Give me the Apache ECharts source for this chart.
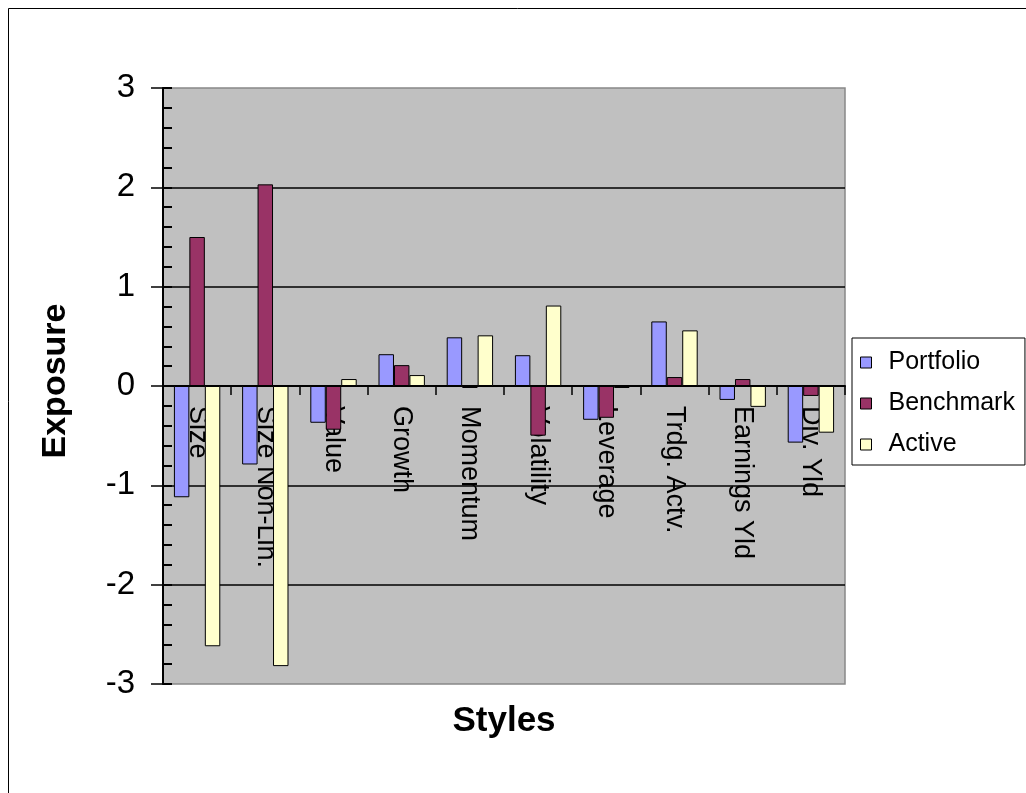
<!DOCTYPE html>
<html>
<head>
<meta charset="utf-8">
<script src="https://cdn.jsdelivr.net/npm/echarts@6/dist/echarts.min.js"></script>
<style>
html,body{margin:0;padding:0;background:#fff;}
#chart{width:1026px;height:793px;}
</style>
</head>
<body>
<div id="chart"></div>
<script>
var categories = ['Size', 'Size Non-Lin.', 'Value', 'Growth', 'Momentum', 'Volatility', 'Leverage', 'Trdg. Actv.', 'Earnings Yld', 'Div. Yld'];
var portfolio = [-1.12, -0.79, -0.37, 0.32, 0.49, 0.31, -0.34, 0.65, -0.14, -0.57];
var benchmark = [1.50, 2.03, -0.44, 0.21, -0.02, -0.50, -0.32, 0.09, 0.07, -0.10];
var active = [-2.62, -2.82, 0.07, 0.11, 0.51, 0.81, -0.02, 0.56, -0.21, -0.47];
var seriesNames = ['Portfolio', 'Benchmark', 'Active'];
var yTicks = {min: -3, max: 3, interval: 1};

var FONT = 'Arial, "Liberation Sans", sans-serif';
var colors = ['#9999ff', '#993366', '#ffffcc'];

// layout of the plot box (pixels)
var GRID = {left: 163, right: 181, top: 88, bottom: 109};
var plotH = 793 - GRID.top - GRID.bottom;
// move the category axis from the bottom edge up to the value 0
var zeroOffset = -plotH * (0 - yTicks.min) / (yTicks.max - yTicks.min);

function barSeries(name, data, color) {
  return {
    name: name,
    type: 'bar',
    data: data,
    xAxisIndex: 0,
    yAxisIndex: 0,
    barGap: '0%',
    barCategoryGap: '32%',
    itemStyle: {color: color, borderColor: '#000', borderWidth: 1}
  };
}

var chart = echarts.init(document.getElementById('chart'), null, {renderer: 'canvas'});
chart.setOption({
  backgroundColor: '#ffffff',
  animation: false,
  graphic: [{
    type: 'rect',
    silent: true,
    shape: {x: 8.5, y: 8.5, width: 1200, height: 1000},
    style: {fill: 'none', stroke: '#000', lineWidth: 1}
  }],
  grid: {
    left: GRID.left, right: GRID.right, top: GRID.top, bottom: GRID.bottom,
    containLabel: false,
    outerBoundsMode: 'none',
    show: true, backgroundColor: '#c0c0c0', borderColor: '#888', borderWidth: 1.5
  },
  legend: {
    orient: 'vertical',
    left: 852, top: 338,
    backgroundColor: '#fff',
    borderColor: '#000', borderWidth: 1,
    padding: [12, 10, 8, 8],
    itemGap: 16, itemWidth: 11, itemHeight: 11,
    icon: 'rect',
    itemStyle: {borderColor: '#000', borderWidth: 1},
    textStyle: {fontFamily: FONT, fontSize: 25, color: '#000', lineHeight: 25, padding: [0, 0, 0, 12]},
    data: seriesNames
  },
  xAxis: {
    type: 'category',
    position: 'bottom',
    offset: zeroOffset,
    data: categories,
    name: 'Styles',
    nameLocation: 'middle',
    nameGap: 318,
    nameTextStyle: {fontFamily: FONT, fontSize: 35, fontWeight: 'bold', color: '#000'},
    axisLine: {onZero: false, lineStyle: {color: '#000', width: 2}},
    axisTick: {show: true, length: 9, lineStyle: {color: '#000', width: 1.5}},
    axisLabel: {
      interval: 0, rotate: -90, margin: 20,
      fontFamily: FONT, fontSize: 27, color: '#000'
    },
    splitLine: {show: false}
  },
  yAxis: [{
    type: 'value',
    min: yTicks.min, max: yTicks.max, interval: yTicks.interval,
    name: 'Exposure',
    nameLocation: 'middle',
    nameRotate: 90,
    nameGap: 90,
    nameTextStyle: {fontFamily: FONT, fontSize: 34, fontWeight: 'bold', color: '#000', padding: [0, 0, 0, 10]},
    axisLine: {show: true, onZero: false, lineStyle: {color: '#000', width: 2}},
    axisTick: {show: true, length: 12, lineStyle: {color: '#000', width: 1.5}},
    axisLabel: {margin: 28, fontFamily: FONT, fontSize: 33, color: '#000'},
    splitLine: {show: true, showMinLine: false, showMaxLine: false, lineStyle: {color: '#000', width: 1.5}}
  }, {
    type: 'value',
    position: 'left',
    min: yTicks.min, max: yTicks.max, interval: yTicks.interval,
    axisLine: {show: false, onZero: false},
    axisLabel: {show: false},
    axisTick: {show: true, inside: true, length: 9, lineStyle: {color: '#000', width: 2}},
    minorTick: {show: true, splitNumber: 5, length: 9, lineStyle: {color: '#000', width: 2}},
    splitLine: {show: false},
    minorSplitLine: {show: false}
  }],
  series: [
    barSeries(seriesNames[0], portfolio, colors[0]),
    barSeries(seriesNames[1], benchmark, colors[1]),
    barSeries(seriesNames[2], active, colors[2])
  ]
});
</script>
</body>
</html>
